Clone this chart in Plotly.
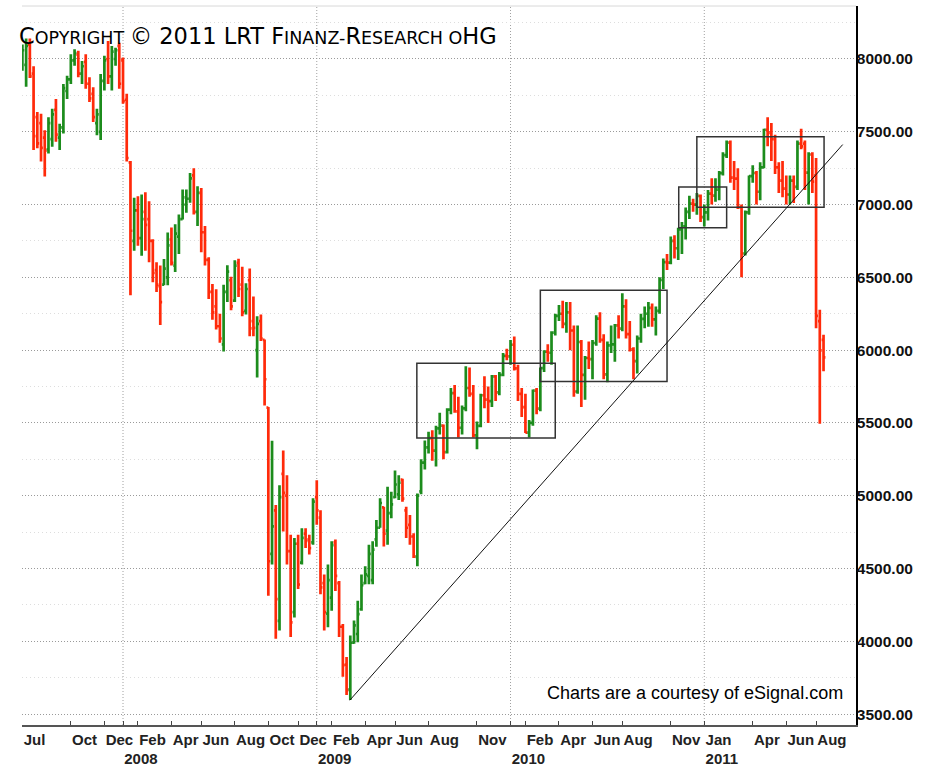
import plotly.graph_objects as go
import pandas as pd

# ---------------- data (weekly bars, week starting Monday) ----------------
week_start = "2007-07-02"

opens = [7930, 7960, 8100, 7900, 7600, 7560, 7460, 7380, 7450, 7650,
         7460, 7530, 7780, 7860, 7990, 8030, 7900, 7980, 7830, 7760,
         7560, 7500, 7850, 8000, 7880, 8000, 8090, 7990, 7720, 7290,
         6750, 6960, 6770, 6950, 6900, 6750, 6550, 6440, 6450, 6500,
         6760, 6580, 6780, 6900, 7000, 7040, 7200, 6950, 7080, 6810,
         6620, 6400, 6300, 6164, 6040, 6400, 6480, 6340, 6600, 6450,
         6270, 6480, 6200, 6000, 6200, 6070, 5605, 4600, 4900, 4140,
         5150, 5000, 4620, 4200, 4670, 4540, 4740, 4700, 4680, 4990,
         4850, 4400, 4190, 4300, 4680, 4400, 4100, 3840, 3670, 3990,
         4050, 4220, 4400, 4450, 4420, 4700, 4780, 4920, 4760, 4880,
         4990, 5010, 5110, 4900, 4800, 4720, 4580, 5030, 5228, 5332,
         5395, 5310, 5463, 5482, 5300, 5591, 5705, 5580, 5467, 5600,
         5740, 5700, 5415, 5480, 5690, 5660, 5650, 5820, 5710, 5830,
         5960, 5957, 6037, 5875, 5700, 5608, 5434, 5500, 5722, 5598,
         5877, 5990, 5982, 6120, 6235, 6250, 6180, 6260, 6135, 5716,
         6056, 5830, 5946, 5938, 6049, 6216, 6070, 5834, 6033, 6040,
         6170, 6148, 6300, 6110, 6005, 5925, 6080, 6215, 6250, 6290,
         6211, 6270, 6482, 6605, 6601, 6750, 6700, 6830, 6850, 6950,
         7007, 7000, 7060, 6914, 6947, 7075, 7062, 7102, 7216, 7340,
         7426, 7185, 7178, 6982, 6664, 6946, 7196, 7217, 7088, 7255,
         7514, 7492, 7449, 7256, 7164, 7109, 7069, 7164, 7121, 7419,
         7419, 7220, 7344, 7200, 6200, 6070]

highs = [8100, 8140, 8140, 7950, 7636, 7624, 7511, 7600, 7658, 7726,
         7556, 7829, 7885, 8033, 8067, 8056, 7987, 8033, 7874, 7806,
         7658, 7897, 8022, 8124, 8090, 8078, 8112, 8010, 7761, 7300,
         7046, 7057, 7069, 7085, 7023, 6762, 6604, 6581, 6626, 6808,
         6842, 6864, 6932, 7103, 7103, 7216, 7250, 7125, 7114, 6853,
         6638, 6454, 6419, 6250, 6450, 6583, 6504, 6617, 6628, 6572,
         6459, 6561, 6368, 6232, 6244, 6073, 5610, 5378, 4936, 5072,
         5310, 5140, 4732, 4709, 4732, 4777, 4777, 4732, 4982, 5106,
         4900, 4459, 4528, 4687, 4700, 4414, 4119, 3892, 4040, 4142,
         4278, 4459, 4516, 4664, 4687, 4834, 4982, 4925, 5061, 5027,
         5174, 5140, 5117, 4925, 4868, 4743, 5015, 5250, 5380, 5440,
         5450, 5480, 5570, 5490, 5600, 5740, 5760, 5680, 5620, 5890,
         5880, 5760, 5510, 5700, 5820, 5750, 5830, 5830, 5850, 5980,
         6010, 6070, 6094, 5900, 5740, 5700, 5520, 5730, 5740, 5880,
         6000, 6040, 6130, 6250, 6310, 6340, 6330, 6330, 6170, 6170,
         6070, 5960, 6060, 6070, 6240, 6260, 6110, 6060, 6170, 6180,
         6240, 6390, 6350, 6200, 6020, 6100, 6250, 6300, 6330, 6320,
         6300, 6500, 6630, 6660, 6780, 6790, 6840, 6880, 6980, 7060,
         7040, 7080, 7070, 7000, 7100, 7180, 7180, 7230, 7360, 7440,
         7440, 7300, 7250, 7000, 6960, 7200, 7270, 7230, 7290, 7520,
         7600, 7560, 7480, 7290, 7300, 7200, 7200, 7200, 7440, 7520,
         7440, 7360, 7360, 7320, 6277, 6106]

lows = [7920, 7810, 7870, 7375, 7386, 7296, 7193, 7350, 7398, 7432,
        7375, 7488, 7726, 7829, 7953, 7874, 7829, 7795, 7704, 7568,
        7477, 7443, 7783, 7829, 7783, 7953, 7795, 7693, 7296, 6377,
        6683, 6717, 6649, 6683, 6604, 6467, 6399, 6173, 6445, 6445,
        6581, 6536, 6660, 6898, 6944, 7012, 6932, 6853, 6672, 6581,
        6352, 6209, 6141, 6050, 5991, 6331, 6274, 6331, 6365, 6232,
        6244, 6096, 6096, 5812, 6062, 5619, 4312, 4528, 4017, 4074,
        4754, 4528, 4029, 4164, 4360, 4528, 4641, 4596, 4664, 4800,
        4323, 4074, 4097, 4210, 4346, 4029, 3756, 3631, 3597, 3983,
        3994, 4210, 4392, 4392, 4392, 4650, 4780, 4652, 4664, 4845,
        4982, 4970, 4959, 4709, 4664, 4573, 4516, 5010, 5180, 5290,
        5240, 5200, 5420, 5250, 5290, 5560, 5570, 5400, 5420, 5580,
        5680, 5400, 5320, 5470, 5600, 5500, 5610, 5650, 5690, 5820,
        5930, 5900, 5860, 5650, 5540, 5430, 5400, 5480, 5560, 5580,
        5850, 5920, 5900, 6100, 6200, 6150, 6120, 6000, 5680, 5700,
        5610, 5660, 5870, 5800, 6030, 6050, 5800, 5780, 5980, 5920,
        6080, 6130, 6080, 5990, 5800, 5840, 6050, 6150, 6160, 6160,
        6100, 6250, 6420, 6550, 6590, 6630, 6620, 6660, 6760, 6900,
        6950, 6930, 6880, 6850, 6890, 7000, 7020, 7030, 7200, 7320,
        7150, 7100, 6970, 6500, 6650, 6930, 7150, 7000, 7030, 7250,
        7400, 7300, 7210, 7080, 7050, 7000, 7000, 7010, 7100, 7380,
        7100, 7000, 7080, 6150, 5494, 5855]

closes = [8060, 8090, 7880, 7470, 7420, 7390, 7370, 7560, 7620, 7480,
          7530, 7800, 7860, 7990, 8040, 7900, 7950, 7830, 7730, 7600,
          7620, 7850, 7990, 7880, 8050, 8060, 7830, 7710, 7320, 6820,
          6960, 6770, 6900, 6860, 6750, 6530, 6450, 6330, 6560, 6720,
          6600, 6800, 6900, 7050, 7040, 7180, 6950, 7080, 6810, 6620,
          6400, 6260, 6164, 6080, 6400, 6540, 6300, 6580, 6420, 6260,
          6420, 6150, 6153, 6180, 6080, 5800, 4550, 4790, 4290, 4990,
          5020, 4620, 4130, 4670, 4390, 4710, 4690, 4640, 4960, 4900,
          4370, 4200, 4420, 4660, 4450, 4100, 3836, 3665, 3990, 4110,
          4187, 4385, 4460, 4600, 4630, 4780, 4950, 4740, 4880, 4940,
          5077, 5090, 4980, 4780, 4720, 4584, 5000, 5228, 5332, 5395,
          5310, 5463, 5482, 5300, 5591, 5705, 5580, 5467, 5600, 5740,
          5700, 5415, 5480, 5690, 5660, 5650, 5820, 5710, 5830, 5960,
          5957, 6037, 5875, 5700, 5608, 5434, 5500, 5722, 5598, 5877,
          5990, 5982, 6120, 6235, 6250, 6180, 6260, 6135, 5716, 6056,
          5830, 5946, 5938, 6049, 6216, 6070, 5834, 6033, 6040, 6170,
          6148, 6300, 6110, 6005, 5925, 6080, 6215, 6250, 6290, 6211,
          6270, 6482, 6605, 6601, 6750, 6700, 6830, 6850, 6950, 7007,
          7000, 7060, 6914, 6947, 7075, 7062, 7102, 7216, 7340, 7426,
          7185, 7178, 6982, 6664, 6946, 7196, 7217, 7088, 7255, 7514,
          7492, 7449, 7256, 7164, 7109, 7069, 7164, 7121, 7419, 7400,
          7220, 7344, 7158, 6236, 5998, 5950]

# x-axis labels (first weekly bar of each labelled month)
tick_dates = ["2007-07-02", "2007-10-01", "2007-12-03", "2008-01-07", "2008-02-04",
              "2008-04-07", "2008-06-02", "2008-08-04", "2008-10-06", "2008-12-01",
              "2009-01-05", "2009-02-02", "2009-04-06", "2009-06-01", "2009-08-03",
              "2009-11-02", "2010-01-04", "2010-02-01", "2010-04-05", "2010-06-07",
              "2010-08-02", "2010-11-01", "2011-01-03", "2011-04-04", "2011-06-06",
              "2011-08-01"]
tick_text = ["Jul", "Oct", "Dec", " <br>2008", "Feb",
             "Apr", "Jun", "Aug", "Oct", "Dec",
             " <br>2009", "Feb", "Apr", "Jun", "Aug",
             "Nov", " <br>2010", "Feb", "Apr", "Jun",
             "Aug", "Nov", "Jan<br>2011", "Apr", "Jun",
             "Aug"]
year_lines = ["2008-01-07", "2009-01-05", "2010-01-04", "2011-01-03"]

y_ticks = [3500, 4000, 4500, 5000, 5500, 6000, 6500, 7000, 7500, 8000]
y_minor = [3750, 4250, 4750, 5250, 5750, 6250, 6750, 7250, 7750, 8250]

# analyst drawings: rectangles (start, end, low, high) and trend line
box_start = ["2009-07-12", "2010-03-01", "2010-11-16", "2010-12-20"]
box_end = ["2010-03-29", "2010-10-25", "2011-02-14", "2011-08-16"]
box_low = [5396, 5784, 6840, 6981]
box_high = [5910, 6412, 7121, 7466]
trend_dates = ["2009-03-08", "2011-09-20"]
trend_values = [3595, 7412]

GREEN = "#1c8c1c"
RED = "#ff2a0a"
FONT = "Liberation Sans, Arial, sans-serif"

weeks = pd.date_range(week_start, periods=len(closes), freq="W-MON")

fig = go.Figure()
fig.add_trace(go.Ohlc(
    x=weeks, open=opens, high=highs, low=lows, close=closes,
    increasing=dict(line=dict(color=GREEN, width=2.7)),
    decreasing=dict(line=dict(color=RED, width=2.7)),
    tickwidth=0.5, hoverinfo="skip", showlegend=False,
))

shapes = []
for yl in year_lines:
    shapes.append(dict(type="line", xref="x", yref="paper", x0=yl, x1=yl, y0=0, y1=1,
                       line=dict(color="#a0a0a0", width=1, dash="1px,2px"), layer="below"))
for s, e, lo, hi in zip(box_start, box_end, box_low, box_high):
    shapes.append(dict(type="rect", xref="x", yref="y", x0=s, x1=e, y0=lo, y1=hi,
                       line=dict(color="#333333", width=1.5), fillcolor="rgba(0,0,0,0)"))
shapes.append(dict(type="line", xref="x", yref="y", x0=trend_dates[0], x1=trend_dates[1],
                   y0=trend_values[0], y1=trend_values[1], line=dict(color="#111111", width=1)))
shapes.append(dict(type="line", xref="paper", yref="paper", x0=0, x1=1, y0=1, y1=1,
                   line=dict(color="#d8d8d8", width=1)))

big = "font-size:22.5px"
copyright_text = (f"<span style='{big}'>C</span>OPYRIGHT <span style='{big}'>© 2011 LRT F</span>INANZ-"
                  f"<span style='{big}'>R</span>ESEARCH O<span style='{big}'>HG</span>")

annotations = [
    dict(text=copyright_text, xref="paper", yref="paper", x=-0.006, y=0.9587,
         xanchor="left", yanchor="middle", showarrow=False,
         font=dict(family="DejaVu Sans", size=17.5, color="black")),
    dict(text="Charts are a courtesy of eSignal.com", xref="paper", yref="paper",
         x=0.9868, y=0.0441, xanchor="right", yanchor="middle", showarrow=False,
         font=dict(family=FONT, size=18, color="black")),
]

fig.update_layout(
    width=931, height=773,
    margin=dict(l=22, r=75, t=6, b=41),
    paper_bgcolor="white", plot_bgcolor="white",
    showlegend=False,
    shapes=shapes, annotations=annotations,
    xaxis=dict(
        type="date", range=["2007-07-01 06:00", "2011-10-15"],
        rangeslider=dict(visible=False),
        tickmode="array", tickvals=tick_dates, ticktext=tick_text,
        tickangle=0, ticklabelposition="outside right",
        ticks="inside", ticklen=4, tickcolor="#444", tickwidth=1,
        showgrid=False, zeroline=False,
        showline=True, linecolor="#555555", linewidth=1.5,
        tickfont=dict(family=FONT, size=15, color="#222222", weight="bold"),
    ),
    yaxis=dict(
        side="right", range=[3425, 8364],
        tickmode="array", tickvals=y_ticks, ticktext=[f"{v:.2f}" for v in y_ticks],
        showgrid=True, gridcolor="#9a9a9a", gridwidth=1, griddash="1px,2px",
        minor=dict(tickvals=y_minor, showgrid=True, gridcolor="#dddddd", griddash="1px,3px", ticks=""),
        zeroline=False, ticks="", ticklabelstandoff=-4,
        showline=True, linecolor="black", linewidth=1.5,
        tickfont=dict(family=FONT, size=15.5, color="#111111", weight="bold"),
    ),
)

fig.write_html("out.html")
